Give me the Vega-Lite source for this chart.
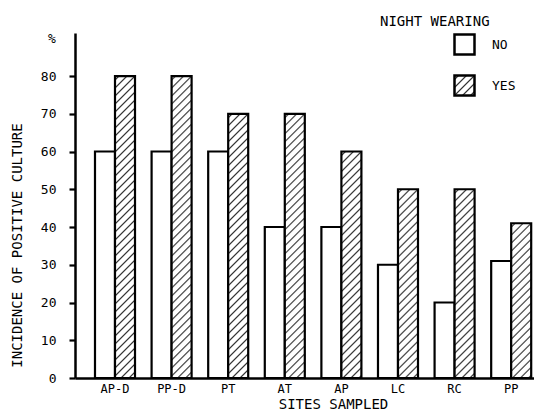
{
  "$schema": "https://vega.github.io/schema/vega-lite/v6.json",
  "description": "Incidence of positive culture by site sampled and night wearing",
  "autosize": "none",
  "padding": {"left": 75, "top": 33, "right": 0, "bottom": 32},
  "width": 459,
  "height": 345,
  "background": "white",
  "title": {
    "text": "%",
    "anchor": "start",
    "frame": "group",
    "offset": 0,
    "dx": -27,
    "dy": 41,
    "baseline": "alphabetic",
    "font": "DejaVu Sans Mono",
    "fontSize": 13,
    "fontWeight": "normal",
    "color": "black"
  },
  "params": [
    {
      "name": "hatch",
      "value": [
        {"offset":0.006,"color":"#fff"},{"offset":0.01,"color":"#333"},{"offset":0.014,"color":"#fff"},
        {"offset":0.026,"color":"#fff"},{"offset":0.03,"color":"#333"},{"offset":0.034,"color":"#fff"},
        {"offset":0.046,"color":"#fff"},{"offset":0.05,"color":"#333"},{"offset":0.054,"color":"#fff"},
        {"offset":0.066,"color":"#fff"},{"offset":0.07,"color":"#333"},{"offset":0.074,"color":"#fff"},
        {"offset":0.086,"color":"#fff"},{"offset":0.09,"color":"#333"},{"offset":0.094,"color":"#fff"},
        {"offset":0.106,"color":"#fff"},{"offset":0.11,"color":"#333"},{"offset":0.114,"color":"#fff"},
        {"offset":0.126,"color":"#fff"},{"offset":0.13,"color":"#333"},{"offset":0.134,"color":"#fff"},
        {"offset":0.146,"color":"#fff"},{"offset":0.15,"color":"#333"},{"offset":0.154,"color":"#fff"},
        {"offset":0.166,"color":"#fff"},{"offset":0.17,"color":"#333"},{"offset":0.174,"color":"#fff"},
        {"offset":0.186,"color":"#fff"},{"offset":0.19,"color":"#333"},{"offset":0.194,"color":"#fff"},
        {"offset":0.206,"color":"#fff"},{"offset":0.21,"color":"#333"},{"offset":0.214,"color":"#fff"},
        {"offset":0.226,"color":"#fff"},{"offset":0.23,"color":"#333"},{"offset":0.234,"color":"#fff"},
        {"offset":0.246,"color":"#fff"},{"offset":0.25,"color":"#333"},{"offset":0.254,"color":"#fff"},
        {"offset":0.266,"color":"#fff"},{"offset":0.27,"color":"#333"},{"offset":0.274,"color":"#fff"},
        {"offset":0.286,"color":"#fff"},{"offset":0.29,"color":"#333"},{"offset":0.294,"color":"#fff"},
        {"offset":0.306,"color":"#fff"},{"offset":0.31,"color":"#333"},{"offset":0.314,"color":"#fff"},
        {"offset":0.326,"color":"#fff"},{"offset":0.33,"color":"#333"},{"offset":0.334,"color":"#fff"},
        {"offset":0.346,"color":"#fff"},{"offset":0.35,"color":"#333"},{"offset":0.354,"color":"#fff"},
        {"offset":0.366,"color":"#fff"},{"offset":0.37,"color":"#333"},{"offset":0.374,"color":"#fff"},
        {"offset":0.386,"color":"#fff"},{"offset":0.39,"color":"#333"},{"offset":0.394,"color":"#fff"},
        {"offset":0.406,"color":"#fff"},{"offset":0.41,"color":"#333"},{"offset":0.414,"color":"#fff"},
        {"offset":0.426,"color":"#fff"},{"offset":0.43,"color":"#333"},{"offset":0.434,"color":"#fff"},
        {"offset":0.446,"color":"#fff"},{"offset":0.45,"color":"#333"},{"offset":0.454,"color":"#fff"},
        {"offset":0.466,"color":"#fff"},{"offset":0.47,"color":"#333"},{"offset":0.474,"color":"#fff"},
        {"offset":0.486,"color":"#fff"},{"offset":0.49,"color":"#333"},{"offset":0.494,"color":"#fff"},
        {"offset":0.506,"color":"#fff"},{"offset":0.51,"color":"#333"},{"offset":0.514,"color":"#fff"},
        {"offset":0.526,"color":"#fff"},{"offset":0.53,"color":"#333"},{"offset":0.534,"color":"#fff"},
        {"offset":0.546,"color":"#fff"},{"offset":0.55,"color":"#333"},{"offset":0.554,"color":"#fff"},
        {"offset":0.566,"color":"#fff"},{"offset":0.57,"color":"#333"},{"offset":0.574,"color":"#fff"},
        {"offset":0.586,"color":"#fff"},{"offset":0.59,"color":"#333"},{"offset":0.594,"color":"#fff"},
        {"offset":0.606,"color":"#fff"},{"offset":0.61,"color":"#333"},{"offset":0.614,"color":"#fff"},
        {"offset":0.626,"color":"#fff"},{"offset":0.63,"color":"#333"},{"offset":0.634,"color":"#fff"},
        {"offset":0.646,"color":"#fff"},{"offset":0.65,"color":"#333"},{"offset":0.654,"color":"#fff"},
        {"offset":0.666,"color":"#fff"},{"offset":0.67,"color":"#333"},{"offset":0.674,"color":"#fff"},
        {"offset":0.686,"color":"#fff"},{"offset":0.69,"color":"#333"},{"offset":0.694,"color":"#fff"},
        {"offset":0.706,"color":"#fff"},{"offset":0.71,"color":"#333"},{"offset":0.714,"color":"#fff"},
        {"offset":0.726,"color":"#fff"},{"offset":0.73,"color":"#333"},{"offset":0.734,"color":"#fff"},
        {"offset":0.746,"color":"#fff"},{"offset":0.75,"color":"#333"},{"offset":0.754,"color":"#fff"},
        {"offset":0.766,"color":"#fff"},{"offset":0.77,"color":"#333"},{"offset":0.774,"color":"#fff"},
        {"offset":0.786,"color":"#fff"},{"offset":0.79,"color":"#333"},{"offset":0.794,"color":"#fff"}
      ]
    }
  ],
  "data": {
    "values": [
      {"site": "AP-D", "wearing": "NO", "pct": 60},
      {"site": "AP-D", "wearing": "YES", "pct": 80},
      {"site": "PP-D", "wearing": "NO", "pct": 60},
      {"site": "PP-D", "wearing": "YES", "pct": 80},
      {"site": "PT", "wearing": "NO", "pct": 60},
      {"site": "PT", "wearing": "YES", "pct": 70},
      {"site": "AT", "wearing": "NO", "pct": 40},
      {"site": "AT", "wearing": "YES", "pct": 70},
      {"site": "AP", "wearing": "NO", "pct": 40},
      {"site": "AP", "wearing": "YES", "pct": 60},
      {"site": "LC", "wearing": "NO", "pct": 30},
      {"site": "LC", "wearing": "YES", "pct": 50},
      {"site": "RC", "wearing": "NO", "pct": 20},
      {"site": "RC", "wearing": "YES", "pct": 50},
      {"site": "PP", "wearing": "NO", "pct": 31},
      {"site": "PP", "wearing": "YES", "pct": 41}
    ]
  },
  "mark": {"type": "bar", "stroke": "black", "strokeWidth": 2.2},
  "encoding": {
    "x": {
      "field": "site",
      "type": "nominal",
      "sort": null,
      "scale": {"paddingInner": 0.293, "paddingOuter": 0.2014, "align": 0.877},
      "axis": {
        "title": "SITES SAMPLED",
        "labelAngle": 0,
        "ticks": false,
        "labelPadding": 5,
        "labelFontSize": 12,
        "titleFontSize": 14,
        "titleX": 258,
        "titleY": 30,
        "titleBaseline": "alphabetic",
        "domainWidth": 2.5
      }
    },
    "xOffset": {
      "field": "wearing",
      "type": "nominal",
      "scale": {"paddingInner": 0, "paddingOuter": 0}
    },
    "y": {
      "field": "pct",
      "type": "quantitative",
      "scale": {"domain": [0, 91.4], "nice": false},
      "axis": {
        "title": "INCIDENCE OF POSITIVE CULTURE",
        "values": [0, 10, 20, 30, 40, 50, 60, 70, 80],
        "grid": false,
        "tickSize": 6,
        "tickWidth": 2.2,
        "labelPadding": 13,
        "domainWidth": 2.5,
        "titleX": -58,
        "titleY": 212,
        "titleBaseline": "middle"
      }
    },
    "fill": {
      "condition": {
        "test": "datum.wearing === 'YES'",
        "value": {"expr": "{gradient: 'linear', x1: 0, y1: 0, x2: 400 * bandwidth('xOffset') / (pow(bandwidth('xOffset'), 2) + pow(scale('y', 0) - scale('y', datum.pct), 2)), y2: 400 * (scale('y', 0) - scale('y', datum.pct)) / (pow(bandwidth('xOffset'), 2) + pow(scale('y', 0) - scale('y', datum.pct), 2)), stops: hatch}"}
      },
      "field": "wearing",
      "type": "nominal",
      "scale": {
        "domain": ["NO", "YES"],
        "range": ["white", {"expr": "{gradient: 'linear', x1: 0, y1: 0, x2: 10, y2: 10, stops: hatch}"}]
      },
      "legend": {
        "title": "NIGHT WEARING",
        "orient": "none",
        "legendX": 305,
        "legendY": -18,
        "padding": 0,
        "titlePadding": 4,
        "symbolType": "square",
        "symbolSize": 400,
        "symbolStrokeWidth": 2.5,
        "symbolStrokeColor": "black",
        "symbolOffset": 73,
        "labelOffset": 16,
        "rowPadding": 10
      }
    }
  },
  "config": {
    "font": "DejaVu Sans Mono",
    "view": {"stroke": null},
    "axis": {
      "domainColor": "black",
      "tickColor": "black",
      "labelColor": "black",
      "titleColor": "black",
      "labelFont": "DejaVu Sans Mono",
      "titleFont": "DejaVu Sans Mono",
      "labelFontSize": 13,
      "titleFontSize": 14,
      "titleFontWeight": "normal"
    },
    "legend": {
      "titleFont": "DejaVu Sans Mono",
      "labelFont": "DejaVu Sans Mono",
      "titleFontSize": 14,
      "labelFontSize": 13,
      "titleFontWeight": "normal",
      "titleColor": "black",
      "labelColor": "black"
    }
  }
}
